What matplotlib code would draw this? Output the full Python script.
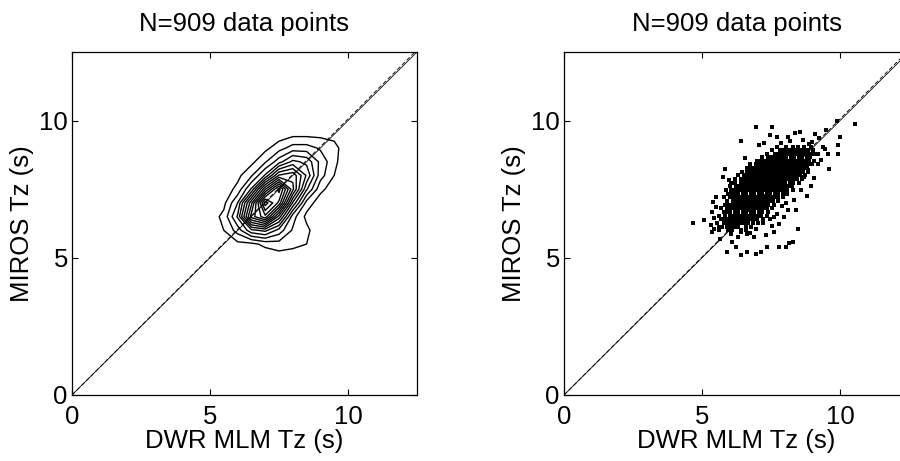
import numpy as np
import matplotlib
matplotlib.use("Agg")
import matplotlib.pyplot as plt

plt.rcParams["font.family"] = ["Liberation Sans", "DejaVu Sans"]

# ---- axis setup -------------------------------------------------------
axis_max = 12.5
tick_values = [0, 5, 10]
title_text = "N=909 data points"
x_label = "DWR MLM Tz (s)"
y_label = "MIROS Tz (s)"
font_size = 18.5

# regression line (dashed) MIROS = slope * DWR + intercept
fit_slope = 1.006
fit_intercept = 0.0

# ---- binned counts for the density contours --------------------------
bin_x = [5.0, 5.5, 6.0, 6.5, 7.0, 7.5, 8.0, 8.5, 9.0, 9.5, 10.0]
bin_y = [5.0, 5.5, 6.0, 6.5, 7.0, 7.5, 8.0, 8.5, 9.0, 9.5, 10.0]
bin_counts = [
    [0, 0, 0, 1, 0, 1, 1, 0, 0, 0, 0],      # y = 5.0
    [0, 1, 2, 2, 4, 5, 4, 3, 0, 0, 0],      # y = 5.5
    [1, 3, 8, 16, 18, 12, 6, 4, 0, 0, 0],   # y = 6.0
    [1, 4, 14, 36, 44, 26, 8, 2, 0, 0, 0],  # y = 6.5
    [0, 2, 10, 30, 54, 44, 20, 5, 1, 0, 0], # y = 7.0
    [0, 1, 4, 14, 34, 50, 32, 14, 4, 1, 0], # y = 7.5
    [0, 0, 2, 6, 14, 28, 30, 20, 8, 3, 0],  # y = 8.0
    [0, 0, 1, 2, 6, 12, 18, 16, 9, 4, 0],   # y = 8.5
    [0, 0, 0, 1, 2, 5, 8, 8, 6, 4, 1],      # y = 9.0
    [0, 0, 0, 0, 1, 1, 2, 2, 2, 2, 1],      # y = 9.5
    [0, 0, 0, 0, 0, 1, 1, 1, 1, 1, 1],      # y = 10.0
]
contour_levels = [3, 6.5, 10, 13.5, 17, 20.5, 24, 27.5, 31, 34.5, 38,
                  41.5, 45, 48.5, 52]

# ---- individual samples (DWR Tz, MIROS Tz) ----------------------------
# dense core, stored row by row
core_row_y = [6.00, 6.13, 6.27, 6.40, 6.53, 6.67, 6.80, 6.93, 7.07, 7.20,
              7.33, 7.47, 7.60, 7.73, 7.87, 8.00, 8.13, 8.27, 8.40, 8.53,
              8.67, 8.80, 8.93, 9.05]
core_row_x = [
    [5.62, 5.93, 6.08, 6.40, 6.61],
    [5.60, 5.74, 5.90, 6.03, 6.17, 6.31, 6.60, 6.77],
    [5.55, 5.80, 5.94, 6.10, 6.24, 6.38, 6.52, 6.67, 6.83, 7.02],
    [5.68, 5.83, 5.97, 6.12, 6.27, 6.41, 6.55, 6.70, 6.84, 6.99, 7.20],
    [5.62, 5.85, 6.01, 6.15, 6.30, 6.44, 6.58, 6.73, 6.88, 7.02, 7.15, 7.34],
    [5.80, 5.95, 6.03, 6.18, 6.32, 6.47, 6.61, 6.76, 6.90, 7.05, 7.19, 7.40],
    [5.70, 5.91, 6.06, 6.21, 6.35, 6.49, 6.64, 6.79, 6.93, 7.08, 7.22, 7.36, 7.55],
    [5.82, 5.95, 6.09, 6.24, 6.38, 6.53, 6.67, 6.82, 6.96, 7.11, 7.25, 7.40, 7.62],
    [5.90, 6.12, 6.27, 6.41, 6.56, 6.70, 6.85, 6.99, 7.14, 7.28, 7.43, 7.57, 7.76],
    [5.80, 6.01, 6.15, 6.30, 6.44, 6.59, 6.73, 6.88, 7.02, 7.17, 7.31, 7.46, 7.60, 7.74, 7.92],
    [5.95, 6.10, 6.18, 6.32, 6.47, 6.61, 6.76, 6.90, 7.05, 7.19, 7.34, 7.48, 7.63, 7.77, 7.92, 8.08],
    [5.88, 6.05, 6.20, 6.35, 6.49, 6.64, 6.78, 6.93, 7.07, 7.22, 7.36, 7.51, 7.65, 7.80, 7.94, 8.09, 8.30],
    [6.02, 6.23, 6.37, 6.52, 6.66, 6.81, 6.95, 7.10, 7.24, 7.39, 7.53, 7.68, 7.82, 7.97, 8.11, 8.26],
    [6.05, 6.20, 6.43, 6.57, 6.72, 6.86, 7.01, 7.15, 7.30, 7.44, 7.59, 7.73, 7.88, 8.02, 8.17, 8.31, 8.50],
    [6.18, 6.40, 6.54, 6.69, 6.83, 6.98, 7.12, 7.27, 7.41, 7.56, 7.70, 7.85, 7.99, 8.14, 8.28, 8.43, 8.62],
    [6.30, 6.51, 6.65, 6.80, 6.94, 7.09, 7.23, 7.38, 7.52, 7.67, 7.81, 7.96, 8.10, 8.25, 8.39, 8.54, 8.72],
    [6.45, 6.64, 6.78, 6.93, 7.07, 7.22, 7.36, 7.51, 7.65, 7.80, 7.94, 8.09, 8.23, 8.38, 8.52, 8.67, 8.85],
    [6.62, 6.79, 6.93, 7.08, 7.22, 7.37, 7.51, 7.66, 7.80, 7.95, 8.09, 8.24, 8.38, 8.53, 8.67, 8.82],
    [6.75, 6.94, 7.09, 7.23, 7.38, 7.52, 7.67, 7.81, 7.96, 8.10, 8.25, 8.39, 8.54, 8.68, 8.83, 9.00],
    [7.00, 7.14, 7.28, 7.43, 7.57, 7.72, 7.86, 8.01, 8.15, 8.30, 8.44, 8.59, 8.73, 8.88, 9.05],
    [7.19, 7.40, 7.55, 7.68, 7.82, 7.92, 8.06, 8.21, 8.35, 8.50, 8.64, 8.79, 8.93],
    [7.35, 7.64, 7.79, 7.93, 8.08, 8.22, 8.37, 8.51, 8.66, 8.80, 8.95, 9.10],
    [7.55, 7.84, 7.98, 8.13, 8.27, 8.42, 8.56, 8.71, 8.85, 9.02],
    [7.70, 8.05, 8.30, 8.48, 8.70, 8.95],
]

# scattered samples around the core
outer_x = [6.95, 7.55, 6.40, 7.45, 7.73, 8.10, 8.36, 8.55, 9.09, 9.51,
           9.88, 10.54, 10.01, 9.92, 9.55, 9.92, 9.61, 9.04, 8.58, 8.28,
           8.34, 8.10, 7.98, 7.62, 7.79, 7.55, 8.46, 8.28, 8.16, 8.04,
           7.79, 7.37, 7.13, 6.95, 6.64, 6.40, 6.22, 6.10, 5.92, 6.64,
           6.88, 7.31, 6.95, 6.40, 5.35, 5.07, 5.31, 5.37, 4.68, 5.98,
           8.88, 9.37, 9.19, 5.45, 5.50, 5.42, 5.52, 7.20, 7.48, 7.70,
           7.90, 8.05, 8.70, 8.85, 9.20, 9.30, 8.95, 6.75, 6.30, 6.05,
           7.25, 7.85, 8.20, 8.65, 9.00, 9.25, 5.75, 5.85, 6.55, 7.05,
           7.60, 8.40, 8.80, 9.45, 5.40, 5.65]
outer_y = [9.76, 9.76, 9.24, 9.48, 9.39, 9.39, 9.54, 9.57, 9.51, 9.66,
           10.00, 9.88, 9.42, 9.12, 8.79, 8.79, 8.24, 7.90, 7.46, 7.46,
           7.09, 6.73, 6.48, 6.48, 6.22, 6.15, 6.06, 5.58, 5.54, 5.39,
           5.39, 5.39, 5.21, 5.13, 5.21, 5.09, 5.39, 5.58, 5.21, 5.88,
           5.76, 5.82, 6.06, 5.94, 6.67, 6.36, 6.18, 5.94, 6.28, 7.82,
           9.15, 9.03, 8.79, 6.45, 6.85, 6.05, 7.20, 6.25, 6.40, 6.60,
           6.90, 7.00, 7.95, 8.20, 8.40, 8.55, 7.60, 5.90, 5.75, 5.85,
           9.20, 9.18, 9.25, 9.30, 9.22, 9.35, 7.95, 8.25, 8.65, 9.10,
           5.95, 6.75, 7.25, 8.95, 7.05, 5.70]

core_x = [x for row in core_row_x for x in row]
core_y = [y for y, row in zip(core_row_y, core_row_x) for _ in row]
dwr_tz = np.array(core_x + outer_x)
miros_tz = np.array(core_y + outer_y)

# ---- figure -----------------------------------------------------------
fig = plt.figure(figsize=(9.0, 4.61), dpi=100)
ax_left = fig.add_axes([0.080, 0.1432, 0.3833, 0.744])
ax_right = fig.add_axes([0.6267, 0.1432, 0.3833, 0.744])

line_x = np.array([0.0, axis_max])


def style_axes(ax):
    ax.set_xlim(0, axis_max)
    ax.set_ylim(0, axis_max)
    ax.set_xticks(tick_values)
    ax.set_yticks(tick_values)
    ax.tick_params(direction="in", length=4, width=0.8, top=True,
                   right=True, labelsize=font_size, colors="k")
    ax.tick_params(axis="x", pad=7)
    ax.tick_params(axis="y", pad=3)
    for sp in ax.spines.values():
        sp.set_linewidth(0.9)
        sp.set_color("k")
    ax.set_title(title_text, fontsize=font_size, pad=15)
    ax.set_xlabel(x_label, fontsize=font_size, labelpad=0)
    ax.set_ylabel(y_label, fontsize=font_size, labelpad=4)
    # one-to-one line and regression line
    ax.plot(line_x, line_x, color="k", lw=0.6)
    ax.plot(line_x, fit_slope * line_x + fit_intercept, color="k",
            lw=0.6, ls=(0, (5, 3)))


ax_left.contour(bin_x, bin_y, np.array(bin_counts), levels=contour_levels,
                colors="k", linewidths=1.0)
style_axes(ax_left)

ax_right.plot(dwr_tz, miros_tz, "s", ms=2.7, mfc="k", mec="k", mew=0)
style_axes(ax_right)

fig.savefig("out.png", dpi=100)
